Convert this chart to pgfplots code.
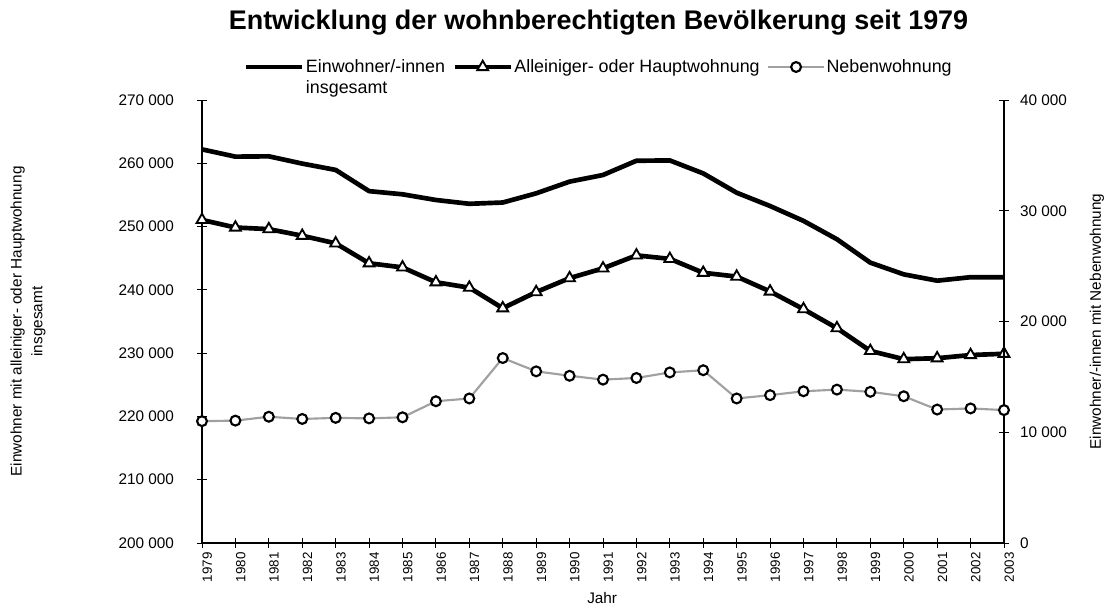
\documentclass[border=0pt]{standalone}
\usepackage{pgfplots}
\pgfplotsset{compat=1.18}
\usepackage{fontspec}
\setmainfont{Liberation Sans}
\definecolor{nebengray}{HTML}{A0A0A0}
\begin{document}
\begin{tikzpicture}
\useasboundingbox (-151.5pt,-48.75pt) rectangle (679.5pt,407.25pt);
\pgfplotsset{
  common/.style={
    scale only axis, width=601.5pt, height=332.25pt,
    xmin=1979, xmax=2003,
    tick align=center, major tick length=7pt,
    tick style={black, line width=0.6pt},
    axis line style={line width=0.8pt},
    scaled y ticks=false, scaled x ticks=false,
    clip=false,
  },
  legend image code/.code={
    \draw[mark repeat=2,mark phase=2] plot coordinates {(0pt,0pt)(21pt,0pt)(42pt,0pt)};
  },
  einw/.style={black, line width=3.5pt, line join=round},
  haupt/.style={black, line width=3.5pt, line join=round, mark=triangle*,
     mark size=4.7pt, mark options={fill=white, draw=black, line width=1.4pt, line join=miter}},
  neben/.style={nebengray, line width=1.6pt, mark=*, mark size=3.7pt,
     mark options={fill=white, draw=black, line width=1.6pt}},
}
\begin{axis}[common,
  axis y line*=left, axis x line*=bottom,
  ymin=200000, ymax=270000,
  ytick={200000,210000,220000,230000,240000,250000,260000,270000},
  yticklabels={200 000,210 000,220 000,230 000,240 000,250 000,260 000,270 000},
  yticklabel style={font=\fontsize{11.5}{13}\selectfont, xshift=-14pt},
  xtick={1979,...,2003},
  xticklabels={1979,1980,1981,1982,1983,1984,1985,1986,1987,1988,1989,1990,1991,1992,1993,1994,1995,1996,1997,1998,1999,2000,2001,2002,2003},
  xticklabel style={font=\fontsize{10}{12}\selectfont, rotate=90, anchor=east, yshift=-4pt},
  xlabel={Jahr},
  xlabel style={font=\fontsize{11.5}{13}\selectfont, at={(axis description cs:0.499,-0.124)}, anchor=center},
  ylabel={Einwohner mit alleiniger- oder Hauptwohnung\\insgesamt},
  ylabel style={font=\fontsize{11.5}{15.5}\selectfont, align=center, at={(axis description cs:-0.217,0.5)}, anchor=center},
  title={Entwicklung der wohnberechtigten Bevölkerung seit 1979},
  title style={font=\bfseries\fontsize{20.2}{24}\selectfont, at={(axis description cs:0.4944,1)}, anchor=base, yshift=47pt},
  legend columns=3,
  legend style={at={(axis description cs:0.4944,1)}, anchor=center, yshift=24.75pt,
     draw=none, fill=none, font=\fontsize{13.4}{16}\selectfont,
     /tikz/every even column/.append style={column sep=4.5pt},
     /tikz/every odd column/.append style={column sep=0pt},
     nodes={inner sep=1pt}},
  legend cell align=left,
]
\addplot[einw] coordinates {
(1979,262200)(1980,261050)(1981,261100)(1982,259950)(1983,258950)(1984,255600)
(1985,255100)(1986,254200)(1987,253600)(1988,253800)(1989,255250)(1990,257100)
(1991,258150)(1992,260400)(1993,260450)(1994,258400)(1995,255350)(1996,253250)
(1997,250900)(1998,248000)(1999,244300)(2000,242450)(2001,241450)(2002,242000)(2003,242000)};
\addlegendentry{\rlap{\raisebox{-15.75pt}[0pt][0pt]{insgesamt}}Einwohner/-innen}
\addplot[haupt] coordinates {
(1979,251050)(1980,249850)(1981,249600)(1982,248550)(1983,247350)(1984,244200)
(1985,243550)(1986,241200)(1987,240350)(1988,237100)(1989,239650)(1990,241850)
(1991,243400)(1992,245450)(1993,244900)(1994,242700)(1995,242100)(1996,239750)
(1997,236950)(1998,233950)(1999,230350)(2000,229050)(2001,229200)(2002,229700)(2003,229900)};
\addlegendentry{Alleiniger- oder Hauptwohnung}
\addlegendimage{neben}
\addlegendentry{Nebenwohnung}
\end{axis}
\begin{axis}[common,
  axis y line*=right, axis x line=none,
  ymin=0, ymax=40000,
  ytick={0,10000,20000,30000,40000},
  yticklabels={0,10 000,20 000,30 000,40 000},
  yticklabel style={font=\fontsize{11.5}{13}\selectfont, xshift=5pt},
  ylabel={Einwohner/-innen mit Nebenwohnung},
  ylabel style={font=\fontsize{11.5}{13}\selectfont, at={(axis description cs:1.116,0.5)}, anchor=center, rotate=0},
]
\addplot[neben] coordinates {
(1979,11000)(1980,11050)(1981,11400)(1982,11200)(1983,11300)(1984,11250)
(1985,11350)(1986,12800)(1987,13050)(1988,16700)(1989,15500)(1990,15100)
(1991,14750)(1992,14900)(1993,15400)(1994,15600)(1995,13050)(1996,13350)
(1997,13700)(1998,13850)(1999,13650)(2000,13250)(2001,12050)(2002,12150)(2003,12000)};
\end{axis}
\end{tikzpicture}
\end{document}
